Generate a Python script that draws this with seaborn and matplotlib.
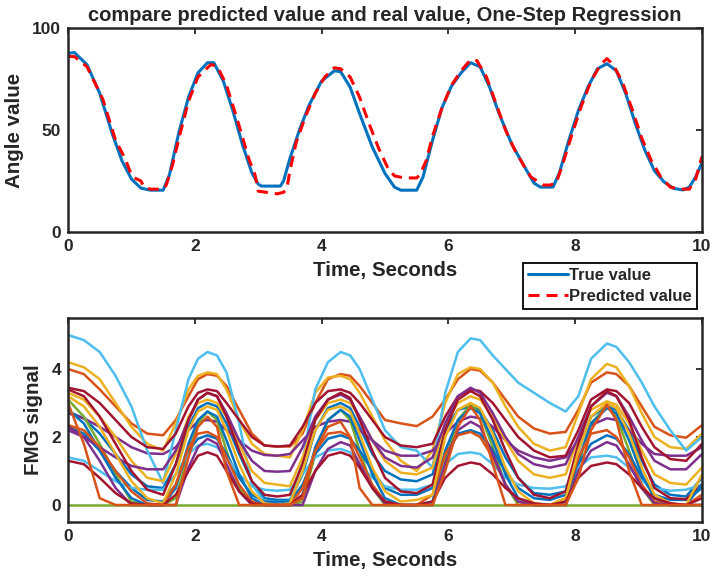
import matplotlib
matplotlib.use('Agg')
import matplotlib.pyplot as plt
import numpy as np
import seaborn as sns

# top panel: angle, true vs predicted
t_true = [0.0, 0.1, 0.3, 0.5, 0.7, 0.85, 1.0, 1.15, 1.3, 1.5, 1.6, 1.75, 1.9, 2.05, 2.2, 2.3,
          2.45, 2.6, 2.75, 2.9, 3.0, 3.05, 3.35, 3.4, 3.5, 3.65, 3.8, 4.0, 4.2, 4.3, 4.45,
          4.6, 4.8, 5.0, 5.15, 5.25, 5.5, 5.6, 5.75, 5.9, 6.05, 6.2, 6.35, 6.5, 6.65, 6.8,
          7.0, 7.2, 7.35, 7.45, 7.65, 7.75, 7.9, 8.05, 8.2, 8.35, 8.5, 8.65, 8.8, 8.95,
          9.1, 9.25, 9.4, 9.55, 9.7, 9.8, 9.9, 10.0]
true_val = [87.5, 88, 82, 68, 48, 35, 26, 21.5, 20.5, 20.5, 28, 49, 66, 78, 83, 83,
            74, 59.5, 43, 29, 23.5, 22.5, 22.5, 25, 36, 50, 62, 74, 79, 78.6, 71,
            58, 41.6, 28.7, 22, 20.5, 20.5, 27, 45, 61, 71.6, 78, 83, 81, 71, 58,
            43, 32, 24, 22, 22, 29, 45, 59.5, 71, 80, 82.5, 79, 67.6, 53,
            40, 30, 24.6, 21.4, 20.6, 22, 27, 34]

t_pred = [0.0, 0.1, 0.3, 0.55, 0.75, 0.9, 1.0, 1.05, 1.15, 1.2, 1.3, 1.5, 1.55, 1.65, 1.75,
          1.9, 2.05, 2.25, 2.35, 2.5, 2.7, 2.85, 2.95, 3.0, 3.3, 3.4, 3.45, 3.5, 3.6, 3.75,
          3.9, 4.05, 4.2, 4.3, 4.45, 4.6, 4.75, 4.9, 5.05, 5.15, 5.3, 5.5, 5.55, 5.65, 5.75,
          5.9, 6.05, 6.2, 6.35, 6.45, 6.6, 6.75, 6.9, 7.05, 7.2, 7.3, 7.4, 7.5, 7.6, 7.7,
          7.8, 7.95, 8.1, 8.25, 8.4, 8.5, 8.6, 8.75, 8.9, 9.05, 9.2, 9.35, 9.5, 9.65, 9.8,
          9.9, 10.0]
pred_val = [86, 86, 81, 65, 45, 36, 28, 26.5, 25, 22, 21, 21, 23, 33, 46,
            64, 76, 82, 81.5, 72, 52, 36, 28, 20, 18.7, 19.5, 21, 30, 44, 57,
            68, 76, 80.5, 80, 76, 66, 53, 41, 31, 27.5, 26.5, 26.5, 28, 35, 47,
            61, 72, 79, 84.5, 84, 76, 63, 50, 40, 32, 27, 25, 23, 23, 24,
            33, 48, 62, 74, 82, 85, 82, 73, 60, 46, 35, 27, 22, 21, 21,
            26, 37]

# bottom panel: FMG channels on a common time grid
t_fmg = [0.0, 0.25, 0.5, 0.75, 1.0, 1.25, 1.5, 1.7, 1.9, 2.05, 2.2, 2.35, 2.5, 2.7, 2.9,
         3.1, 3.3, 3.5, 3.7, 3.9, 4.1, 4.3, 4.45, 4.6, 4.8, 5.0, 5.25, 5.5, 5.75, 5.95,
         6.15, 6.35, 6.5, 6.7, 6.9, 7.1, 7.35, 7.6, 7.85, 8.05, 8.25, 8.5, 8.65, 8.85,
         9.05, 9.25, 9.5, 9.75, 10.0]

ch_green2 = [0.0] * 49
ch_blue1 = [2.75, 2.55, 2.1, 1.5, 0.9, 0.55, 0.5, 1.2, 2.3, 2.85, 3.0, 2.9, 2.4, 1.5, 0.7,
            0.2, 0.15, 0.15, 0.9, 2.2, 2.85, 3.0, 2.85, 2.3, 1.5, 1.0, 0.75, 0.7, 0.9, 2.2,
            2.8, 2.9, 2.8, 2.2, 1.4, 0.8, 0.35, 0.3, 0.4, 1.6, 2.6, 2.9, 2.8, 2.2,
            1.3, 0.6, 0.3, 0.25, 0.8]
ch_orange1 = [4.0, 3.85, 3.4, 2.9, 2.4, 2.1, 2.05, 2.5, 3.2, 3.7, 3.85, 3.8, 3.5, 2.8, 2.1,
              1.75, 1.72, 1.72, 2.1, 3.0, 3.7, 3.85, 3.8, 3.5, 3.0, 2.5, 2.4, 2.32, 2.6, 3.1,
              3.7, 4.0, 3.95, 3.6, 3.1, 2.6, 2.25, 2.1, 2.15, 2.8, 3.6, 3.9, 3.85, 3.5,
              2.9, 2.3, 2.05, 1.98, 2.35]
ch_yellow1 = [4.2, 4.05, 3.7, 3.0, 2.3, 1.8, 1.6, 2.4, 3.4, 3.8, 3.9, 3.85, 3.4, 2.5, 1.8,
              1.5, 1.45, 1.4, 2.2, 3.3, 3.75, 3.8, 3.7, 3.3, 2.6, 1.9, 1.3, 1.0, 1.6, 3.0,
              3.85, 4.05, 4.0, 3.6, 2.9, 2.3, 1.8, 1.6, 1.7, 2.7, 3.7, 4.15, 4.05, 3.5,
              2.7, 2.0, 1.7, 1.65, 2.1]
ch_purple1 = [2.7, 2.55, 2.3, 2.0, 1.7, 1.52, 1.5, 1.7, 2.2, 2.45, 2.5, 2.45, 2.2, 1.9, 1.6,
              1.47, 1.45, 1.5, 1.9, 2.3, 2.45, 2.5, 2.45, 2.2, 1.9, 1.6, 1.45, 1.45, 1.6, 2.1,
              2.45, 2.6, 2.55, 2.3, 1.9, 1.6, 1.4, 1.3, 1.4, 1.9, 2.35, 2.55, 2.5, 2.2,
              1.8, 1.5, 1.45, 1.45, 1.7]
ch_green1 = [3.1, 2.6, 1.8, 0.9, 0.1, 0.0, 0.0, 0.2, 1.5, 2.4, 2.75, 2.5, 1.6, 0.5, 0.0,
             0.0, 0.0, 0.0, 0.1, 1.5, 2.5, 2.8, 2.5, 1.6, 0.5, 0.0, 0.0, 0.0, 0.0, 1.3,
             2.5, 2.95, 2.7, 1.7, 0.6, 0.0, 0.0, 0.0, 0.0, 1.2, 2.4, 2.9, 2.6, 1.6,
             0.5, 0.0, 0.0, 0.0, 0.0]
ch_lblue1 = [5.0, 4.85, 4.5, 3.8, 2.9, 1.6, 0.65, 2.2, 3.7, 4.3, 4.5, 4.4, 3.9, 2.4, 0.6,
             0.1, 0.1, 0.1, 1.3, 3.4, 4.2, 4.5, 4.4, 4.0, 3.1, 2.2, 1.7, 1.6, 1.1, 3.3,
             4.5, 4.9, 4.85, 4.4, 4.0, 3.6, 3.3, 3.0, 2.75, 3.2, 4.3, 4.75, 4.65, 4.2,
             3.6, 2.9, 2.2, 1.6, 2.0]
ch_dred1 = [3.45, 3.35, 3.0, 2.5, 2.0, 1.7, 1.65, 2.1, 2.9, 3.3, 3.4, 3.35, 3.0, 2.5, 2.0,
            1.75, 1.72, 1.75, 2.3, 3.0, 3.35, 3.4, 3.3, 3.0, 2.5, 2.0, 1.75, 1.7, 1.8, 2.6,
            3.2, 3.4, 3.35, 3.0, 2.5, 2.0, 1.6, 1.4, 1.45, 2.2, 3.1, 3.4, 3.35, 3.0,
            2.3, 1.7, 1.35, 1.3, 1.8]
ch_blue2 = [2.3, 2.1, 1.6, 1.0, 0.5, 0.15, 0.1, 0.6, 1.6, 1.95, 2.05, 1.95, 1.5, 0.8, 0.3,
            0.1, 0.1, 0.1, 0.6, 1.5, 1.95, 2.05, 1.95, 1.6, 1.0, 0.5, 0.3, 0.3, 0.5, 1.5,
            2.1, 2.2, 2.1, 1.6, 1.0, 0.5, 0.2, 0.15, 0.3, 1.2, 1.8, 2.05, 1.95, 1.5,
            0.8, 0.3, 0.15, 0.15, 0.5]
ch_yellow2 = [3.3, 3.1, 2.6, 2.0, 1.3, 0.8, 0.7, 1.5, 2.6, 3.0, 3.1, 3.0, 2.6, 1.8, 1.0,
              0.65, 0.6, 0.55, 1.4, 2.5, 3.0, 3.1, 3.0, 2.6, 1.9, 1.3, 0.95, 0.9, 1.1, 2.4,
              3.0, 3.2, 3.1, 2.6, 1.9, 1.3, 0.9, 0.8, 0.9, 2.0, 2.8, 3.05, 2.95, 2.4,
              1.6, 0.9, 0.65, 0.6, 1.1]
ch_purple2 = [2.2, 2.0, 1.7, 1.4, 1.15, 1.05, 1.05, 1.6, 2.5, 3.1, 3.3, 3.2, 2.7, 1.9, 1.3,
              1.0, 0.98, 1.0, 1.7, 2.6, 3.1, 3.25, 3.1, 2.6, 1.9, 1.4, 1.15, 1.1, 1.4, 2.4,
              3.2, 3.45, 3.3, 2.7, 2.0, 1.5, 1.2, 1.1, 1.2, 2.0, 2.9, 3.3, 3.2, 2.6,
              1.9, 1.3, 1.05, 1.05, 1.5]
ch_lblue2 = [1.4, 1.3, 1.0, 0.7, 0.5, 0.45, 0.45, 0.9, 1.5, 1.75, 1.8, 1.7, 1.4, 0.9, 0.55,
             0.45, 0.42, 0.45, 0.9, 1.4, 1.6, 1.65, 1.55, 1.2, 0.8, 0.55, 0.45, 0.45, 0.6, 1.2,
             1.5, 1.55, 1.5, 1.2, 0.8, 0.6, 0.5, 0.48, 0.55, 1.1, 1.4, 1.45, 1.4, 1.1,
             0.7, 0.5, 0.42, 0.45, 0.6]
ch_dred2 = [3.4, 3.2, 2.6, 1.8, 1.0, 0.45, 0.3, 1.2, 2.5, 3.1, 3.3, 3.2, 2.6, 1.6, 0.7,
            0.3, 0.25, 0.3, 1.2, 2.5, 3.1, 3.3, 3.15, 2.5, 1.6, 0.8, 0.4, 0.35, 0.6, 2.2,
            3.1, 3.35, 3.2, 2.5, 1.6, 0.8, 0.3, 0.2, 0.4, 1.8, 2.9, 3.35, 3.2, 2.5,
            1.4, 0.5, 0.2, 0.17, 0.6]
ch_blue3 = [2.8, 2.4, 1.6, 0.8, 0.2, 0.0, 0.0, 0.5, 1.8, 2.5, 2.75, 2.6, 1.9, 0.9, 0.2,
            0.0, 0.0, 0.0, 0.3, 1.7, 2.5, 2.8, 2.6, 1.9, 0.9, 0.2, 0.0, 0.0, 0.1, 1.6,
            2.5, 2.85, 2.7, 1.9, 0.9, 0.2, 0.0, 0.0, 0.1, 1.3, 2.4, 2.85, 2.7, 1.9,
            0.9, 0.2, 0.0, 0.0, 0.6]
ch_orange3 = [2.35, 2.2, 1.7, 1.0, 0.4, 0.05, 0.0, 0.6, 1.7, 2.1, 2.15, 2.0, 1.4, 0.6, 0.1,
              0.0, 0.0, 0.0, 0.5, 1.6, 2.1, 2.15, 2.0, 1.4, 0.6, 0.1, 0.0, 0.0, 0.3, 1.5,
              2.05, 2.15, 2.0, 1.4, 0.6, 0.1, 0.0, 0.0, 0.2, 1.4, 2.1, 2.2, 2.0, 1.4,
              0.6, 0.1, 0.0, 0.0, 0.3]
ch_yellow3 = [3.2, 2.9, 2.3, 1.5, 0.7, 0.2, 0.05, 0.9, 2.2, 2.75, 2.9, 2.8, 2.2, 1.2, 0.4,
              0.05, 0.0, 0.05, 1.0, 2.2, 2.8, 2.9, 2.75, 2.1, 1.1, 0.4, 0.1, 0.15, 0.3, 2.0,
              2.8, 3.0, 2.85, 2.1, 1.1, 0.4, 0.05, 0.0, 0.2, 1.6, 2.6, 3.0, 2.85, 2.1,
              1.1, 0.3, 0.05, 0.0, 0.9]
ch_purple3 = [2.3, 2.0, 1.3, 0.5, 0.0, 0.0, 0.0, 0.0, 1.1, 1.7, 1.95, 1.8, 1.2, 0.4, 0.0,
              0.0, 0.0, 0.0, 0.0, 1.0, 1.65, 1.85, 1.75, 1.2, 0.5, 0.05, 0.0, 0.0, 0.0, 1.2,
              2.2, 2.45, 2.3, 1.5, 0.6, 0.1, 0.0, 0.0, 0.0, 1.0, 1.6, 1.85, 1.75, 1.2,
              0.5, 0.05, 0.0, 0.0, 0.0]
ch_dred3 = [1.3, 1.2, 0.8, 0.35, 0.05, 0.0, 0.0, 0.3, 1.0, 1.45, 1.55, 1.45, 1.0, 0.4, 0.05,
            0.0, 0.0, 0.0, 0.3, 1.0, 1.45, 1.55, 1.45, 1.1, 0.5, 0.1, 0.0, 0.0, 0.1, 0.8,
            1.15, 1.25, 1.2, 0.9, 0.5, 0.2, 0.05, 0.0, 0.1, 0.8, 1.15, 1.25, 1.2, 0.9,
            0.5, 0.2, 0.05, 0.0, 0.2]
ch_orange2 = [3.0, 1.8, 0.2, 0.0, 0.0, 0.0, 0.0, 0.0, 1.4, 2.3, 2.6, 2.3, 1.0, 0.0, 0.0,
              0.0, 0.0, 0.0, 0.2, 1.6, 2.3, 2.45, 2.0, 0.5, 0.0, 0.0, 0.0, 0.0, 0.0, 1.0,
              2.3, 2.9, 2.5, 1.2, 0.0, 0.0, 0.0, 0.0, 0.0, 0.8, 2.2, 2.95, 2.5, 1.0,
              0.0, 0.0, 0.0, 0.0, 0.0]

# MATLAB default colour order
c_blue, c_orange, c_yellow = '#0072BD', '#D95319', '#EDB120'
c_purple, c_green, c_lblue, c_dred = '#7E2F8E', '#77AC30', '#4DBEEE', '#A2142F'

channels = [
    (ch_green2, c_green), (ch_blue1, c_blue), (ch_orange1, c_orange), (ch_yellow1, c_yellow),
    (ch_purple1, c_purple), (ch_green1, c_green), (ch_lblue1, c_lblue), (ch_dred1, c_dred),
    (ch_blue2, c_blue), (ch_yellow2, c_yellow), (ch_purple2, c_purple), (ch_lblue2, c_lblue),
    (ch_dred2, c_dred), (ch_blue3, c_blue), (ch_orange3, c_orange), (ch_yellow3, c_yellow),
    (ch_purple3, c_purple), (ch_dred3, c_dred), (ch_orange2, c_orange),
]

sns.set_style('white')
plt.rcParams['font.family'] = ['Liberation Sans', 'DejaVu Sans']
plt.rcParams['font.weight'] = 'bold'

fig = plt.figure(figsize=(7.1, 5.85), dpi=100)
ax1 = fig.add_axes([68 / 710, 1 - 232 / 585, 634 / 710, 204 / 585])
ax2 = fig.add_axes([68 / 710, 1 - 522 / 585, 634 / 710, 204 / 585])

sns.lineplot(x=t_true, y=true_val, ax=ax1, color=c_blue, lw=2.2, label='True value')
sns.lineplot(x=t_pred, y=pred_val, ax=ax1, color='red', lw=2.2, label='Predicted value')
ax1.lines[1].set_dashes([3.6, 2.3])

for vals, col in channels:
    sns.lineplot(x=t_fmg, y=vals, ax=ax2, color=col, lw=1.8)

ax1.set_xlim(0, 10)
ax1.set_ylim(0, 100)
ax1.set_yticks([0, 50, 100])
ax2.set_xlim(0, 10)
ax2.set_ylim(-0.5, 5.5)
ax2.set_yticks([0, 2, 4])

ax1.set_title('compare predicted value and real value, One-Step Regression',
              fontsize=14.5, fontweight='bold', pad=5)
for ax, yl in [(ax1, 'Angle value'), (ax2, 'FMG signal')]:
    ax.set_xticks([0, 2, 4, 6, 8, 10])
    ax.set_xlabel('Time, Seconds', fontsize=14.8, fontweight='bold', labelpad=5)
    ax.set_ylabel(yl, fontsize=14.8, fontweight='bold', labelpad=6)
    ax.tick_params(direction='in', top=True, right=True, length=4, width=1.3,
                   labelsize=12.5, colors='#262626', pad=5)
    for lab in ax.get_xticklabels() + ax.get_yticklabels():
        lab.set_fontweight('bold')
    for sp in ax.spines.values():
        sp.set_linewidth(1.8)
        sp.set_color('#262626')

ax1.get_legend().remove()
handles, labels = ax1.get_legend_handles_labels()
leg = fig.legend(handles, labels, loc='upper right', bbox_to_anchor=(697 / 710, 1 - 263 / 585),
                 frameon=True, fancybox=False, edgecolor='black', framealpha=1,
                 prop={'size': 12, 'weight': 'bold'}, handlelength=2.4, handletextpad=0.1,
                 borderpad=0.3, labelspacing=0.35, borderaxespad=0)
leg.get_frame().set_linewidth(1.3)

plt.savefig('out.png', dpi=100)
